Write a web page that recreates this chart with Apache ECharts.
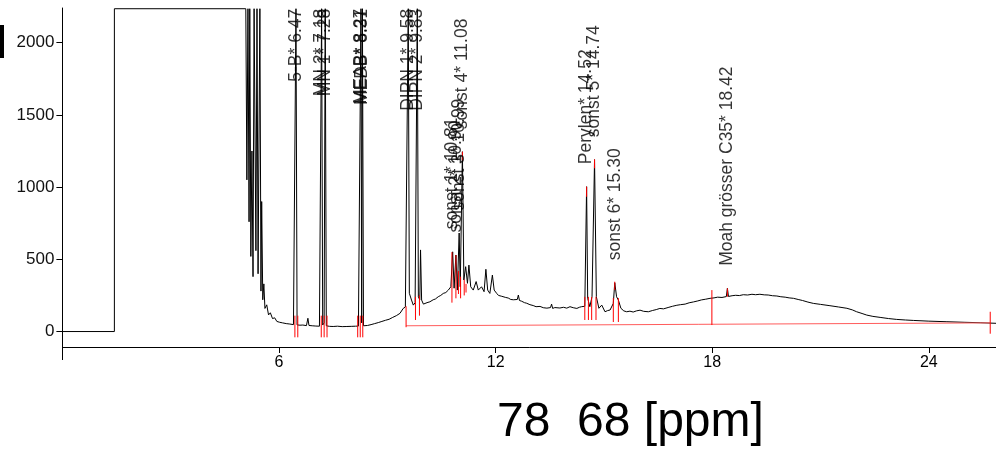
<!DOCTYPE html>
<html><head><meta charset="utf-8">
<script src="https://cdn.jsdelivr.net/npm/echarts@6/dist/echarts.min.js"></script>
<style>html,body{margin:0;padding:0;background:#fff}#c{width:996px;height:453px}</style>
</head><body><div id="c"></div>
<script>
// ---- data: [retention time, signal] ----
const tracePoints = [
 [0,0],[1.44,0],[1.44,2235],[5.08,2235],[5.11,1050],[5.14,2235],[5.17,760],[5.19,2235],[5.22,520],[5.25,1250],
 [5.28,380],[5.31,2235],[5.36,560],[5.39,2235],[5.42,400],[5.47,2235],[5.50,280],[5.52,900],[5.55,220],[5.58,330],
 [5.61,160],[5.66,185],[5.71,115],[5.76,130],[5.82,90],[5.88,95],[5.94,70],[6.02,64],[6.10,60],[6.20,55],
 [6.30,52],[6.40,48],[6.44,46],[6.47,2235],[6.50,46],[6.58,44],[6.66,45],[6.76,41],[6.80,92],[6.83,42],
 [6.92,40],[7.02,38],[7.12,37],[7.15,38],[7.18,2235],[7.21,45],[7.25,60],[7.28,2235],[7.31,40],[7.40,36],
 [7.50,35],[7.62,37],[7.75,34],[7.88,35],[8.00,36],[8.12,37],[8.20,38],[8.27,2235],[8.29,60],[8.31,2235],
 [8.34,40],[8.45,42],[8.55,48],[8.65,55],[8.75,62],[8.85,70],[8.95,78],[9.05,85],[9.15,98],[9.25,110],
 [9.35,126],[9.44,160],[9.50,170],[9.58,2235],[9.61,265],[9.67,218],[9.72,183],[9.77,200],[9.83,2235],[9.86,240],
 [9.90,220],[9.92,565],[9.95,218],[10.00,190],[10.04,183],[10.10,200],[10.18,206],[10.22,195],[10.27,220],[10.33,225],
 [10.41,241],[10.48,250],[10.55,264],[10.62,270],[10.69,287],[10.76,310],[10.81,552],[10.85,300],[10.90,530],[10.94,287],
 [10.99,682],[11.02,310],[11.08,1245],[11.12,357],[11.17,449],[11.22,334],[11.26,460],[11.31,310],[11.38,287],[11.46,346],
 [11.52,287],[11.61,310],[11.68,276],[11.73,431],[11.78,287],[11.84,264],[11.91,391],[11.96,287],[12.03,264],[12.08,250],
 [12.12,258],[12.17,244],[12.21,248],[12.28,236],[12.35,232],[12.42,222],[12.49,220],[12.60,222],[12.63,253],[12.66,215],
 [12.72,210],[12.75,204],[12.80,200],[12.86,196],[12.95,186],[13.04,180],[13.12,172],[13.23,174],[13.32,165],[13.42,162],
 [13.52,166],[13.55,190],[13.58,160],[13.64,166],[13.69,158],[13.78,163],[13.88,168],[13.97,162],[14.06,172],[14.15,165],
 [14.25,160],[14.32,168],[14.38,172],[14.47,175],[14.52,1003],[14.55,230],[14.61,172],[14.67,241],[14.74,1190],[14.79,241],
 [14.86,161],[14.94,183],[15.03,137],[15.10,145],[15.17,149],[15.26,195],[15.30,338],[15.35,241],[15.40,218],[15.47,161],
 [15.55,143],[15.63,137],[15.72,141],[15.81,135],[15.90,143],[16.00,148],[16.10,140],[16.23,137],[16.35,146],[16.45,152],
 [16.55,160],[16.65,157],[16.80,168],[16.90,175],[17.02,182],[17.12,186],[17.25,190],[17.36,199],[17.48,205],[17.60,212],
 [17.70,219],[17.82,224],[17.94,230],[18.05,233],[18.15,238],[18.27,236],[18.39,242],[18.42,299],[18.45,243],[18.55,248],
 [18.65,251],[18.75,249],[18.86,255],[18.98,253],[19.10,258],[19.20,255],[19.32,258],[19.44,254],[19.55,253],[19.67,248],
 [19.79,246],[19.90,241],[20.02,238],[20.13,233],[20.25,230],[20.38,222],[20.50,215],[20.65,204],[20.80,195],[21.00,188],
 [21.26,179],[21.50,170],[21.73,161],[21.88,150],[22.00,137],[22.15,125],[22.28,114],[22.45,105],[22.65,98],[22.88,90],
 [23.11,84],[23.35,80],[23.57,77],[24.00,72],[24.50,68],[25.00,64],[25.42,61],[25.86,57]
];

const peakNames = ["5-B* 6.47","MN 2* 7.18","MN 1* 7.28","MEAB* 8.27","MEDB* 8.31","DIPN 1* 9.58","DIPN 2* 9.83","sonst 1* 10.81","sonst 2* 10.90","sonst 3* 10.99","sonst 4* 11.08","Perylen* 14.52","sonst 5* 14.74","sonst 6* 15.30","Moah grösser C35* 18.42"];
const peakTimes = [6.47,7.18,7.28,8.27,8.31,9.58,9.83,10.81,10.90,10.99,11.08,14.52,14.74,15.30,18.42];
const peakHeights = [2235,2235,2235,2235,2235,2235,2235,552,530,682,1245,1003,1190,338,299];

const markTime   = [6.44,6.52,7.17,7.25,7.33,8.18,8.25,8.32,9.52,9.78,9.89,10.79,10.90,10.97,11.03,11.08,11.13,11.18,14.47,14.52,14.57,14.66,14.74,14.78,15.26,15.30,15.40,17.99,18.42,25.70];
const markTop    = [110,110,110,110,110,110,110,110,175,240,250,550,530,420,380,1245,360,330,240,1003,240,240,1192,240,232,345,232,287,299,137];
const markBottom = [-40,-40,-40,-40,-40,-40,-40,-40,30,80,110,200,230,260,230,1185,250,270,80,933,80,80,1130,80,66,287,66,45,241,-15];

const baselineTime = [9.52, 25.70];
const baselineSignal = [40, 60];

const xTicks = [6, 12, 18, 24];
const yTicks = [0, 500, 1000, 1500, 2000];
const titleText = "78  68 [ppm]";
const SAT = 2235;

// ---- chart ----
const chart = echarts.init(document.getElementById('c'), null, {renderer: 'canvas'});
const marks = markTime.map((t, i) => [t, markTop[i], markBottom[i]]);
const base = baselineTime.map((t, i) => [t, baselineSignal[i]]);
const labelFont = 'Liberation Sans, Arial, sans-serif';

const peakLabels = peakTimes.map((t, i) => {
  const sat = peakHeights[i] >= SAT;
  return {
    value: [t, peakHeights[i]],
    name: peakNames[i],
    label: sat
      ? {position: 'inside', align: 'right', verticalAlign: 'middle'}
      : {position: 'top', distance: 22, align: 'left', verticalAlign: 'middle'}
  };
});

chart.setOption({
  animation: false,
  backgroundColor: '#fff',
  grid: {left: 62.4, right: 0, top: 8, bottom: 106, containLabel: false},
  xAxis: {
    type: 'value', min: 0, max: 25.86,
    axisLine: {onZero: false, lineStyle: {color: '#000', width: 1}},
    axisTick: {customValues: xTicks, length: 6, lineStyle: {color: '#000'}},
    axisLabel: {customValues: xTicks, color: '#000', fontSize: 16, margin: 8,
      fontFamily: 'Liberation Sans Narrow, Liberation Sans, Arial, sans-serif',
      formatter: v => String(v)},
    splitLine: {show: false}
  },
  yAxis: {
    type: 'value', min: -107, max: 2240,
    axisLine: {show: true, onZero: false, lineStyle: {color: '#000', width: 1}},
    axisTick: {show: true, customValues: yTicks, length: 6, lineStyle: {color: '#000'}},
    axisLabel: {customValues: yTicks, color: '#111', fontSize: 17, margin: 8, fontFamily: labelFont,
      formatter: v => String(v)},
    splitLine: {show: false}
  },
  series: [
    {
      type: 'line', data: tracePoints, showSymbol: false, symbol: 'none',
      lineStyle: {color: '#000', width: 1}, z: 2, silent: true
    },
    {
      type: 'line', data: base, showSymbol: false, symbol: 'none',
      lineStyle: {color: '#ff5c5c', width: 1}, z: 3, silent: true
    },
    {
      type: 'custom', data: marks, z: 4, silent: true,
      renderItem: function (params, api) {
        const p1 = api.coord([api.value(0), api.value(1)]);
        const p2 = api.coord([api.value(0), api.value(2)]);
        return {type: 'line', shape: {x1: p1[0], y1: p1[1], x2: p2[0], y2: p2[1]},
          style: {stroke: '#ff0000', lineWidth: 1}};
      }
    },
    {
      type: 'scatter', data: peakLabels, symbolSize: 1, z: 5, silent: true,
      itemStyle: {color: 'transparent'},
      label: {
        show: true, rotate: 90, color: '#000', fontSize: 17.5, fontFamily: labelFont,
        formatter: p => p.name
      }
    }
  ],
  graphic: [
    {type: 'rect', shape: {x: 0, y: 25, width: 4, height: 33}, style: {fill: '#000'}},
    {type: 'line', shape: {x1: 62.5, y1: 347, x2: 62.5, y2: 360}, style: {stroke: '#000', lineWidth: 1}},
    {type: 'text', x: 497, y: 399,
      style: {text: titleText, fill: '#000', font: '48px Liberation Sans, Arial, sans-serif',
        textAlign: 'left', textVerticalAlign: 'top'}}
  ]
});
</script></body></html>
